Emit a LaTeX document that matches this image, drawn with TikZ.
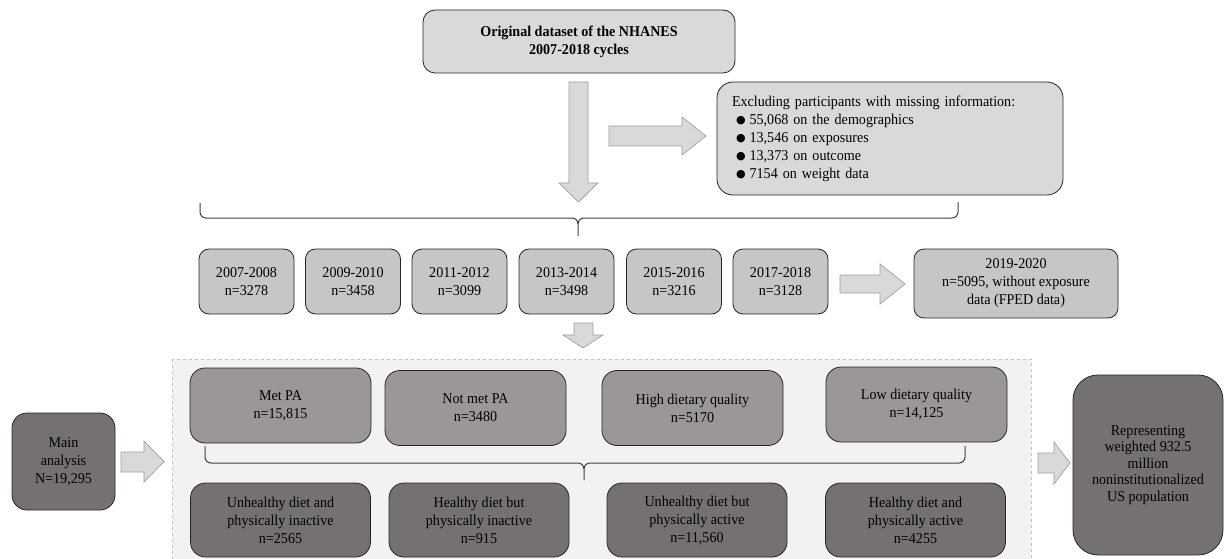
\documentclass[tikz,border=0pt]{standalone}
\usepackage{fontspec}
\setmainfont{Liberation Serif}[FakeStretch=0.94]
\newfontfamily\symfnt{DejaVu Sans}
\usetikzlibrary{positioning}
\definecolor{titlefill}{RGB}{217,217,217}
\definecolor{yearfill}{RGB}{199,197,197}
\definecolor{midfill}{RGB}{155,151,151}
\definecolor{darkfill}{RGB}{118,113,113}
\definecolor{arrowfill}{RGB}{217,217,217}
\definecolor{arrowdraw}{RGB}{160,160,160}
\definecolor{regionfill}{RGB}{242,242,242}
\definecolor{regiondraw}{RGB}{195,195,195}
\definecolor{bracecol}{RGB}{64,64,64}
\newcommand{\bul}{\hspace*{4pt}\raisebox{0.8pt}{\symfnt\fontsize{11}{11}\selectfont ●}\hspace{4pt}}
\tikzset{
  box/.style={draw=black!85, line width=0.8pt, rounded corners=10pt, align=center,
    inner sep=0pt, font=\fontsize{15}{18}\selectfont},
  yearbox/.style={box, fill=yearfill, minimum width=95pt, minimum height=65pt},
  midbox/.style={box, fill=midfill, rounded corners=15pt, minimum width=181pt, minimum height=75pt},
  darkbox/.style={box, fill=darkfill, rounded corners=15pt, minimum width=180pt, minimum height=74pt},
  blockarrow/.style={fill=arrowfill, draw=arrowdraw, line width=0.7pt},
  bracepath/.style={draw=bracecol, line width=1pt}
}
\begin{document}
\begin{tikzpicture}[x=1pt,y=-1pt]
\useasboundingbox (0,0) rectangle (1224,559);
% dashed region
\draw[fill=regionfill, draw=regiondraw, dashed, line width=0.7pt] (172,359) rectangle (1031,575);

% title
\node[box, fill=titlefill, rounded corners=12pt, minimum width=312pt, minimum height=63pt,
  font=\fontsize{15}{18}\selectfont\bfseries] (title) at (579,41.5)
  {\raisebox{0pt}[12pt][3pt]{}Original dataset of the NHANES\\2007-2018 cycles};

% exclusion box
\node[box, fill=titlefill, rounded corners=16pt, minimum width=346pt, minimum height=113pt,
  text width=316pt, align=left] (excl) at (890,138.5)
  {Excluding participants with missing information:\\
   \bul 55,068 on the demographics\\
   \bul 13,546 on exposures\\
   \bul 13,373 on outcome\\
   \bul 7154 on weight data};

% block arrows top
\draw[blockarrow] (569,82) -- (588,82) -- (588,183) -- (598,183) -- (578.5,202) -- (559,183) -- (569,183) -- cycle;
\draw[blockarrow] (609,126) -- (682,126) -- (682,117) -- (706,136) -- (682,155) -- (682,146) -- (609,146) -- cycle;

% brace 1
\coordinate (b1l) at (200,203);
\coordinate (b1m) at (578,236);
\coordinate (b1r) at (958,202);
\draw[bracepath] (b1l) -- (200,212) to[out=-90,in=180] (206,218) -- (572,218) to[out=0,in=90] (578,224) -- (b1m);
\draw[bracepath] (578,224) to[out=90,in=180] (584,218) -- (952,218) to[out=0,in=-90] (958,212) -- (b1r);

% year boxes
\node[yearbox] (y1) at (246.5,281.5) {2007-2008\\n=3278};
\node[yearbox] (y2) at (353,281.5) {2009-2010\\n=3458};
\node[yearbox] (y3) at (459.5,281.5) {2011-2012\\n=3099};
\node[yearbox] (y4) at (566.5,281.5) {2013-2014\\n=3498};
\node[yearbox] (y5) at (674,281.5) {2015-2016\\n=3216};
\node[yearbox] (y6) at (780.5,281.5) {2017-2018\\n=3128};
\node[yearbox, minimum width=204pt, minimum height=69pt] (y7) at (1016,283.5)
  {2019-2020\\n=5095, without exposure\\data (FPED data)};

\draw[blockarrow] (840,275) -- (880,275) -- (880,264) -- (905,284) -- (880,304) -- (880,293) -- (840,293) -- cycle;
\draw[blockarrow] (574,323) -- (593,323) -- (593,335) -- (603,335) -- (583,348) -- (563,335) -- (574,335) -- cycle;

% row 3
\node[midbox] (met) at (280.5,405.5) {Met PA\\n=15,815};
\node[midbox] (notmet) at (475.5,408) {Not met PA\\n=3480};
\node[midbox] (high) at (692.5,408) {High dietary quality\\n=5170};
\node[midbox] (low) at (916.5,404.5) {Low dietary quality\\n=14,125};

% brace 2
\coordinate (b2l) at (205,446);
\coordinate (b2m) at (584,480);
\coordinate (b2r) at (965,446);
\draw[bracepath] (b2l) -- (205,457) to[out=-90,in=180] (211,463) -- (578,463) to[out=0,in=90] (584,469) -- (b2m);
\draw[bracepath] (584,469) to[out=90,in=180] (590,463) -- (959,463) to[out=0,in=-90] (965,457) -- (b2r);

% row 4
\node[darkbox] (r1) at (280.5,520) {Unhealthy diet and\\physically inactive\\n=2565};
\node[darkbox] (r2) at (479,520) {Healthy diet but\\physically inactive\\n=915};
\node[darkbox] (r3) at (697,520) {Unhealthy diet but\\physically active\\n=11,560};
\node[darkbox] (r4) at (915.5,520) {Healthy diet and\\physically active\\n=4255};

% main and representing
\node[box, fill=darkfill, rounded corners=15pt, minimum width=103pt, minimum height=97pt] (main) at (63.5,461.5)
  {Main\\analysis\\N=19,295};
\node[box, fill=darkfill, rounded corners=25pt, minimum width=150pt, minimum height=180pt,
  font=\fontsize{15}{16.5}\selectfont] (rep) at (1148,465)
  {Representing\\weighted 932.5\\million\\noninstitutionalized\\US population};

\draw[blockarrow] (121,452) -- (144,452) -- (144,441) -- (164,461.5) -- (144,482) -- (144,472) -- (121,472) -- cycle;
\draw[blockarrow] (1038,453) -- (1054,453) -- (1054,442) -- (1070,463) -- (1054,484) -- (1054,473) -- (1038,473) -- cycle;
\end{tikzpicture}
\end{document}
